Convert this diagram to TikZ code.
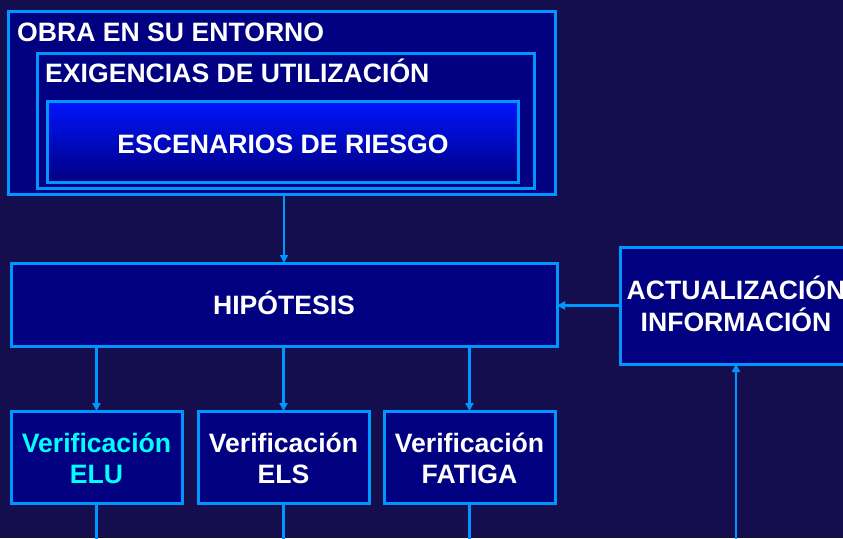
\documentclass[tikz,border=0pt]{standalone}
\usepackage{fontspec}
\setmainfont{Liberation Sans}
\usetikzlibrary{arrows.meta}
\definecolor{bgc}{RGB}{20,14,78}
\definecolor{boxc}{RGB}{0,0,128}
\definecolor{edgec}{RGB}{0,150,255}
\definecolor{topc}{RGB}{0,20,255}
\definecolor{elu}{RGB}{0,255,255}
\tikzset{
  x=1pt,y=-1pt,
  box/.style={draw=edgec,line width=3pt,fill=boxc,rectangle,inner sep=0pt,outer sep=0pt},
  gbox/.style={draw=edgec,line width=3pt,top color=topc,bottom color=boxc,rectangle,inner sep=0pt,outer sep=0pt},
  txt/.style={text=white,font=\fontsize{26.6}{32}\selectfont\bfseries,inner sep=0pt,align=center},
  arr/.style={draw=edgec,line width=2.6pt,-{Triangle[length=8pt,width=8pt]}},
  ln/.style={draw=edgec,line width=2.6pt},
}
\begin{document}
\begin{tikzpicture}
\useasboundingbox (0,0) rectangle (843,538);
\clip (0,0) rectangle (843,538);
\fill[bgc] (0,0) rectangle (843,538);
\node[box,minimum width=547pt,minimum height=183pt] (obra) at (281.5,102.5) {};
\node[box,minimum width=497pt,minimum height=135pt] (exig) at (285.5,120.5) {};
\node[gbox,minimum width=471pt,minimum height=81pt] (esc) at (282.5,141.5) {};
\node[txt,anchor=base west] (tobra) at (17,41) {OBRA EN SU ENTORNO};
\node[txt,anchor=base west] (texig) at (45,82) {EXIGENCIAS DE UTILIZACIÓN};
\node[txt,anchor=base] (tesc) at (283,153) {ESCENARIOS DE RIESGO};
\node[box,minimum width=546pt,minimum height=83pt] (hip) at (284,304.5) {};
\node[txt,anchor=base] (thip) at (284,314) {HIPÓTESIS};
\node[box,minimum width=232pt,minimum height=117pt] (act) at (736,305.5) {};
\node[txt,anchor=base] (tact1) at (736,299) {ACTUALIZACIÓN};
\node[txt,anchor=base] (tact2) at (736,331) {INFORMACIÓN};
\node[box,minimum width=171pt,minimum height=92pt] (elu) at (96.5,457) {};
\node[box,minimum width=171pt,minimum height=92pt] (els) at (283.5,457) {};
\node[box,minimum width=171pt,minimum height=92pt] (fat) at (469.5,457) {};
\node[txt,anchor=base,text=elu] (telu1) at (96.5,452) {Verificación};
\node[txt,anchor=base,text=elu] (telu2) at (96.5,483) {ELU};
\node[txt,anchor=base] (tels1) at (283.5,452) {Verificación};
\node[txt,anchor=base] (tels2) at (283.5,483) {ELS};
\node[txt,anchor=base] (tfat1) at (469.5,452) {Verificación};
\node[txt,anchor=base] (tfat2) at (469.5,483) {FATIGA};
\coordinate (bot) at (0,545);
\draw[arr] (obra.south -| hip.north) -- (hip.north);
\draw[arr] (hip.south -| elu.north) -- (elu.north);
\draw[arr] (hip.south -| els.north) -- (els.north);
\draw[arr] (hip.south -| fat.north) -- (fat.north);
\draw[arr] (act.west) -- (act.west -| hip.east);
\draw[arr] (act.south |- bot) -- (act.south);
\draw[ln] (elu.south) -- (elu.south |- bot);
\draw[ln] (els.south) -- (els.south |- bot);
\draw[ln] (fat.south) -- (fat.south |- bot);
\end{tikzpicture}
\end{document}
